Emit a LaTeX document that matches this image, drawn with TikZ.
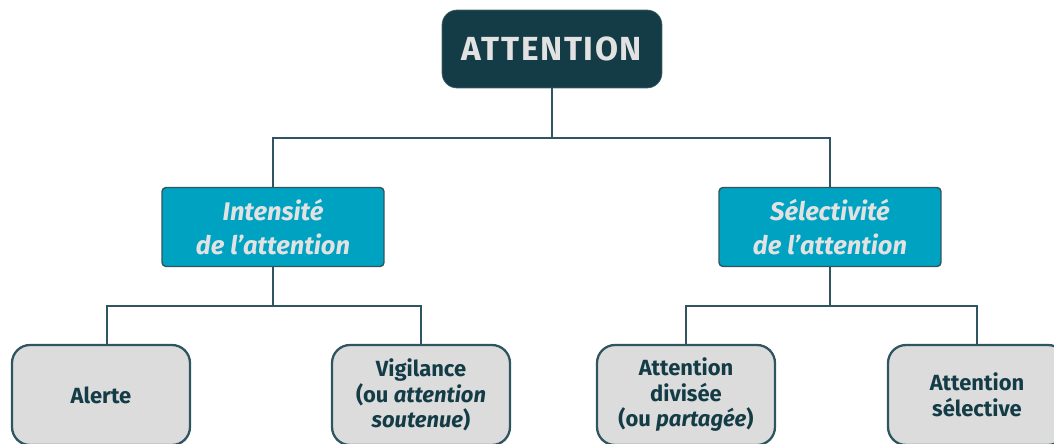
\documentclass[tikz,border=0pt]{standalone}
\usepackage{fontspec}
\setmainfont{Fira Sans}
\definecolor{darkteal}{HTML}{143C46}
\definecolor{midteal}{HTML}{00A2C2}
\definecolor{lightgray}{HTML}{DCDCDC}
\definecolor{linecol}{HTML}{2E5560}
\definecolor{textlight}{HTML}{E2E2E2}

\begin{document}
\begin{tikzpicture}[x=0.02cm, y=-0.02cm]
    \tikzstyle{rootbox} = [shape=rectangle, rounded corners=0.3cm, fill=darkteal, draw=darkteal!80,
                           minimum width=4.4cm, minimum height=1.56cm, text=textlight,
                           font=\fontsize{19}{22}\selectfont\bfseries\addfontfeatures{LetterSpace=5}]
    \tikzstyle{axisbox} = [shape=rectangle, rounded corners=0.08cm, fill=midteal, draw=linecol, thick,
                           minimum width=4.44cm, minimum height=1.58cm, text=textlight, align=center,
                           font=\fontsize{14.5}{19}\selectfont\bfseries\itshape]
    \tikzstyle{leafbox} = [shape=rectangle, rounded corners=0.36cm, fill=lightgray, draw=linecol, line width=1.3pt,
                           minimum width=3.56cm, minimum height=2cm, text=darkteal, align=center,
                           font=\fontsize{12.5}{14.5}\selectfont\bfseries]
    \tikzstyle{link} = [draw=linecol, line width=1.1pt]

    \useasboundingbox (0,0) rectangle (1054,443);
    \clip (0,0) rectangle (1054,443);

    \node (attn)   [rootbox] at (552,49)  {ATTENTION};
    \node (intens) [axisbox] at (273,227) {Intensité\\de l’attention};
    \node (select) [axisbox] at (830,227) {Sélectivité\\de l’attention};
    \node (alerte) [leafbox] at (101,395) {Alerte};
    \node (vigil)  [leafbox] at (421,395) {Vigilance\\(ou \textit{attention}\\\textit{soutenue})};
    \node (divis)  [leafbox] at (686,395) {Attention\\divisée\\(ou \textit{partagée})};
    \node (selec)  [leafbox] at (977,395) {Attention\\sélective};

    \coordinate (j0) at (552,138);
    \coordinate (j1) at (273,306);
    \coordinate (j2) at (830,306);

    \draw [link] (attn) -- (j0) -| (intens);
    \draw [link] (j0) -| (select);
    \draw [link] (intens) -- (j1) -| ([xshift=0.12cm]alerte.north);
    \draw [link] (j1) -| (vigil);
    \draw [link] (select) -- (j2) -| (divis);
    \draw [link] (j2) -| (selec);
\end{tikzpicture}
\end{document}
